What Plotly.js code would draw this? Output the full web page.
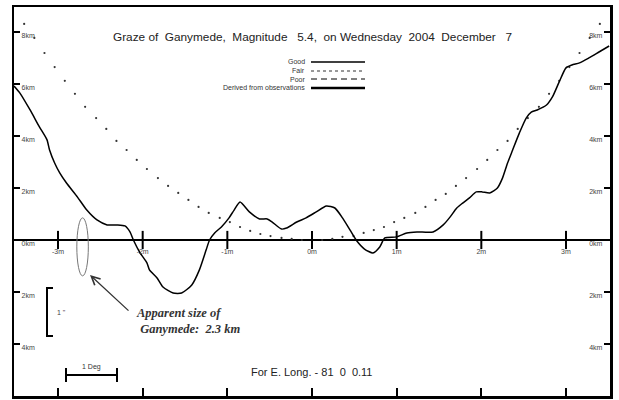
<!DOCTYPE html>
<html>
<head>
<meta charset="utf-8">
<script src="https://cdn.plot.ly/plotly-3.0.1.min.js"></script>
<style>html,body{margin:0;padding:0;background:#fff;}#chart{width:619px;height:400px;}</style>
</head>
<body>
<div id="chart"></div>
<script>
// ---- data (minutes from central time, km from centre) ----
var profileMin = [-3.52,-3.45,-3.33,-3.22,-3.13,-3.10,-3.04,-2.98,-2.90,-2.77,-2.66,-2.54,-2.42,-2.30,-2.21,-2.15,-2.11,-2.03,-1.95,-1.92,-1.83,-1.76,-1.64,-1.54,-1.42,-1.33,-1.25,-1.21,-1.15,-1.07,-0.98,-0.92,-0.85,-0.74,-0.62,-0.53,-0.47,-0.36,-0.30,-0.18,-0.07,0.05,0.17,0.27,0.36,0.45,0.53,0.62,0.72,0.80,0.86,1.00,1.12,1.24,1.43,1.55,1.63,1.71,1.78,1.86,1.94,2.01,2.10,2.19,2.25,2.31,2.37,2.45,2.53,2.59,2.66,2.77,2.84,2.92,3.00,3.07,3.16,3.27,3.39,3.51];
var profileKm  = [5.92,5.65,5.00,4.35,3.85,3.46,2.96,2.58,2.19,1.65,1.15,0.77,0.58,0.58,0.54,0.31,0.00,-0.50,-0.88,-1.15,-1.46,-1.81,-2.04,-2.04,-1.73,-1.15,-0.38,0.00,0.27,0.50,0.85,1.15,1.46,1.08,0.81,0.81,0.69,0.42,0.46,0.69,0.85,1.08,1.31,1.23,0.85,0.38,-0.04,-0.35,-0.50,-0.27,0.08,0.12,0.27,0.31,0.31,0.58,0.88,1.23,1.42,1.62,1.85,1.85,1.81,2.00,2.38,2.96,3.46,4.12,4.69,4.92,5.00,5.19,5.50,6.08,6.62,6.73,6.81,7.00,7.23,7.46];

var limitMin = [-3.40,-3.28,-3.16,-3.04,-2.92,-2.80,-2.68,-2.55,-2.43,-2.31,-2.19,-2.07,-1.95,-1.82,-1.70,-1.58,-1.46,-1.34,-1.22,-1.09,-0.97,-0.85,-0.73,-0.61,-0.49,-0.36,-0.24,-0.12,0.00,
                0.12,0.24,0.36,0.49,0.61,0.73,0.85,0.97,1.09,1.22,1.34,1.46,1.58,1.70,1.82,1.95,2.07,2.19,2.31,2.43,2.55,2.68,2.80,2.92,3.04,3.16,3.28,3.40];
var limitKm  = [8.31,7.77,7.19,6.65,6.12,5.62,5.12,4.69,4.27,3.81,3.46,3.08,2.73,2.38,2.08,1.81,1.54,1.27,1.04,0.85,0.69,0.50,0.35,0.23,0.15,0.08,0.04,0.00,0.00,
                0.00,0.04,0.12,0.15,0.27,0.38,0.50,0.69,0.85,1.04,1.27,1.54,1.77,2.08,2.38,2.73,3.08,3.46,3.81,4.27,4.69,5.12,5.62,6.12,6.65,7.19,7.77,8.31];

var minuteTicks  = [-3,-2,-1,0,1,2,3];
var minuteLabels = ['-3m','-2m','-1m','0m','1m','2m','3m'];
var kmTicks  = [8,6,4,2,0,-2,-4];
var kmLabels = ['8km','6km','4km','2km','0km','2km','4km'];

var legendNames = ['Good','Fair','Poor','Derived from observations'];

var ganymedeCentreMin = -2.71;
var ganymedeSizeKm = 2.23;

// ---- pixel helpers for decorations (plot area 14..610 x 7..396) ----
var L=14, R=610, T=7, B=396;
function px(x){return (x-L)/(R-L);}
function py(y){return (B-y)/(B-T);}

var traces = [
  {x: limitMin, y: limitKm, mode:'markers', type:'scatter',
   marker:{size:2.2, color:'#333'}, hoverinfo:'skip', showlegend:false},
  {x: profileMin, y: profileKm, mode:'lines', type:'scatter',
   line:{color:'#000', width:1.5, shape:'spline', smoothing:0.6}, hoverinfo:'skip', showlegend:false},
  {x: minuteTicks, y: minuteTicks.map(function(){return 0;}), mode:'markers+text', type:'scatter',
   text: minuteLabels, textposition:'bottom center',
   textfont:{family:'Arial', size:7, color:'#444'},
   marker:{symbol:'line-ns', size:13, line:{width:2, color:'#000'}}, hoverinfo:'skip', showlegend:false},
  {x:[0], y:[0], yaxis:'y2', mode:'markers', marker:{opacity:0}, hoverinfo:'skip', showlegend:false}
];

var shapes = [
  // Ganymede apparent size ellipse
  {type:'circle', xref:'x', yref:'y', x0:ganymedeCentreMin-0.068, x1:ganymedeCentreMin+0.068,
   y0:-1.38, y1:-1.38+ganymedeSizeKm, line:{color:'#777', width:1}},
  // 1" bracket
  {type:'path', xref:'paper', yref:'paper',
   path:'M'+px(53)+','+py(288)+' L'+px(47)+','+py(288)+' L'+px(47)+','+py(336)+' L'+px(53)+','+py(336),
   line:{color:'#000', width:2}},
  // 1 Deg bar
  {type:'line', xref:'paper', yref:'paper', x0:px(66), x1:px(117), y0:py(375), y1:py(375), line:{color:'#000', width:2}},
  {type:'line', xref:'paper', yref:'paper', x0:px(66), x1:px(66), y0:py(368), y1:py(382), line:{color:'#000', width:2}},
  {type:'line', xref:'paper', yref:'paper', x0:px(117), x1:px(117), y0:py(368), y1:py(382), line:{color:'#000', width:2}},
  // legend samples
  {type:'line', xref:'paper', yref:'paper', x0:px(311), x1:px(365), y0:py(62), y1:py(62), line:{color:'#000', width:1.5}},
  {type:'line', xref:'paper', yref:'paper', x0:px(311), x1:px(365), y0:py(71), y1:py(71), line:{color:'#333', width:1, dash:'dot'}},
  {type:'line', xref:'paper', yref:'paper', x0:px(311), x1:px(365), y0:py(79), y1:py(79), line:{color:'#000', width:1, dash:'6px,4px'}},
  {type:'line', xref:'paper', yref:'paper', x0:px(311), x1:px(365), y0:py(88), y1:py(88), line:{color:'#000', width:2.5}}
];

var legendY = [62,71,79,88];
var annotations = legendNames.map(function(n,i){
  return {text:n, xref:'paper', yref:'paper', x:px(307), y:py(legendY[i]), xanchor:'right', yanchor:'middle',
          showarrow:false, font:{family:'Arial', size:7, color:'#333'}};
});
annotations.push(
  {text:'', xref:'paper', yref:'paper', x:px(90), y:py(275), ax:40, ay:37,
   showarrow:true, arrowhead:5, arrowsize:1.3, arrowwidth:1.3, arrowcolor:'#333'},
  {text:'Apparent size of<br>\u00a0Ganymede:\u00a0 2.3 km', xref:'paper', yref:'paper', x:px(134), y:py(320.5), xanchor:'left', yanchor:'middle',
   align:'left', showarrow:false, font:{family:'Liberation Serif', size:12.5, color:'#333', style:'italic', weight:'bold'}},
  {text:'1 "', xref:'paper', yref:'paper', x:px(55), y:py(312), xanchor:'left', yanchor:'middle',
   showarrow:false, font:{family:'Arial', size:7, color:'#444'}},
  {text:'1 Deg', xref:'paper', yref:'paper', x:px(91), y:py(367), xanchor:'center', yanchor:'middle',
   showarrow:false, font:{family:'Arial', size:7, color:'#333'}},
  {text:'For E. Long. - 81\u00a0 0\u00a0 0.11', xref:'paper', yref:'paper', x:px(311), y:py(372), xanchor:'center', yanchor:'middle',
   showarrow:false, font:{family:'Arial', size:11, color:'#222'}}
);

var layout = {
  width:619, height:400,
  margin:{l:L, r:619-R, t:T, b:400-B, pad:0},
  paper_bgcolor:'#fff', plot_bgcolor:'#fff',
  showlegend:false,
  title:{text:'Graze of\u00a0 Ganymede,\u00a0 Magnitude\u00a0\u00a0 5.4,\u00a0 on Wednesday\u00a0 2004\u00a0 December\u00a0\u00a0 7',
         x:0.505, xanchor:'center', y:1-37/400, yanchor:'middle',
         font:{family:'Arial', size:11.8, color:'#222'}},
  xaxis:{range:[-3.52,3.52], showgrid:false, zeroline:false,
         showline:true, mirror:true, linewidth:2.5, linecolor:'#000',
         ticks:'inside', tickvals:minuteTicks, ticklen:8, tickwidth:2, tickcolor:'#000',
         showticklabels:false, fixedrange:true},
  yaxis:{range:[-6,8.96], showgrid:false, zeroline:true, zerolinewidth:2, zerolinecolor:'#000',
         showline:true, mirror:true, linewidth:2.5, linecolor:'#000',
         ticks:'inside', tickvals:kmTicks, ticktext:kmLabels, ticklen:6, tickwidth:2, tickcolor:'#000',
         ticklabelposition:'inside', ticklabelshift:4,
         tickfont:{family:'Arial', size:7, color:'#444'}, fixedrange:true},
  yaxis2:{range:[-6,8.96], overlaying:'y', side:'right', showgrid:false, zeroline:false, showline:false,
         ticks:'inside', tickvals:kmTicks, ticktext:kmLabels, ticklen:6, tickwidth:2, tickcolor:'#000',
         ticklabelposition:'inside', ticklabelshift:4,
         tickfont:{family:'Arial', size:7, color:'#444'}, fixedrange:true},
  shapes:shapes,
  annotations:annotations
};

Plotly.newPlot('chart', traces, layout, {staticPlot:true, displayModeBar:false});
</script>
</body>
</html>
